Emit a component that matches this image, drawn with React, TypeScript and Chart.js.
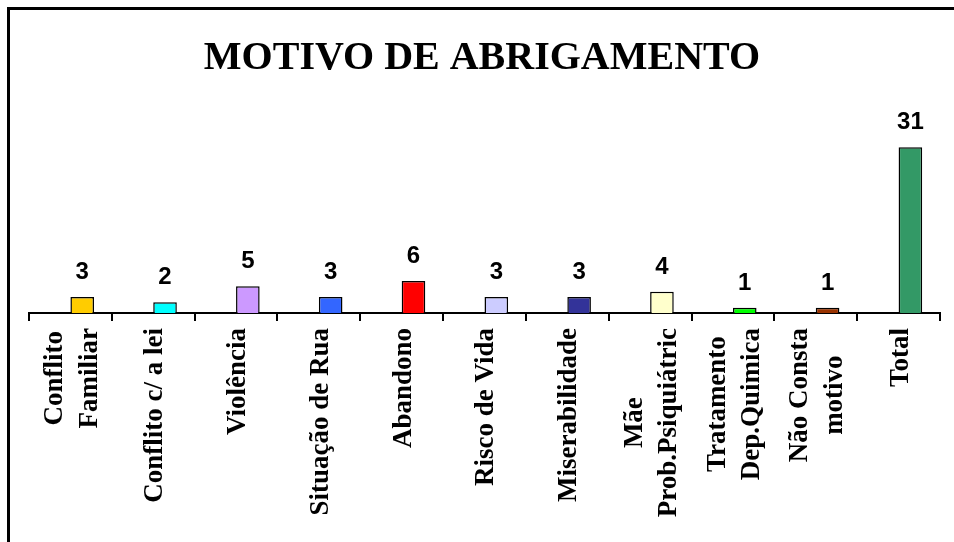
import { useEffect, useRef } from "react";
import { Chart, registerables } from "chart.js";

Chart.register(...registerables);

const chartTitle = "MOTIVO DE ABRIGAMENTO";

const categories: (string | string[])[] = [
  ["Conflito", "Familiar"],
  "Conflito c/ a lei",
  "Violência",
  "Situação de Rua",
  "Abandono",
  "Risco de Vida",
  "Miserabilidade",
  ["Mãe", "Prob.Psiquiátric"],
  ["Tratamento", "Dep.Quimica"],
  ["Não Consta", "motivo"],
  "Total",
];

const counts = [3, 2, 5, 3, 6, 3, 3, 4, 1, 1, 31];

const barColors = [
  "#FFCC00",
  "#00FFFF",
  "#CC99FF",
  "#3366FF",
  "#FF0000",
  "#CCCCFF",
  "#333399",
  "#FFFFCC",
  "#00FF00",
  "#993300",
  "#339966",
];

// empty companion series (the original chart has an unused first series)
const spacerSeries = [null, null, null, null, null, null, null, null, null, null, null];

const yMax = 35;

export default function App() {
  const ref = useRef<HTMLCanvasElement>(null);

  useEffect(() => {
    const canvas = ref.current;
    if (!canvas) return;

    const decor = {
      id: "decor",
      afterDraw(chart: any) {
        const ctx = chart.ctx as CanvasRenderingContext2D;
        const xs = chart.scales.x;
        const area = chart.chartArea;
        ctx.save();

        // frame
        ctx.strokeStyle = "#000";
        ctx.lineWidth = 3;
        ctx.strokeRect(8.5, 8.5, 3000, 3000);

        // title
        ctx.fillStyle = "#000";
        ctx.font = "bold 40px 'Liberation Serif'";
        ctx.textAlign = "center";
        ctx.textBaseline = "alphabetic";
        ctx.fillText(chartTitle, 482, 69);

        // value labels
        ctx.font = "bold 24px 'Liberation Sans'";
        const meta = chart.getDatasetMeta(1);
        meta.data.forEach((bar: any, i: number) => {
          ctx.fillText(String(counts[i]), bar.x, bar.y - 18);
        });

        // category labels (rotated, reading bottom to top)
        ctx.font = "bold 27px 'Liberation Serif'";
        const labelTop = area.bottom + 15;
        const lineGap = 34.5;
        categories.forEach((cat, i) => {
          const lines = Array.isArray(cat) ? cat : [cat];
          const widths = lines.map((l) => ctx.measureText(l).width);
          const maxW = Math.max(...widths);
          const cx = xs.getPixelForValue(i);
          ctx.save();
          ctx.translate(cx, labelTop);
          ctx.rotate(-Math.PI / 2);
          ctx.textAlign = "center";
          ctx.textBaseline = "middle";
          lines.forEach((l, j) => {
            ctx.fillText(l, -maxW / 2, (j - (lines.length - 1) / 2) * lineGap + 2);
          });
          ctx.restore();
        });

        ctx.restore();
      },
    };

    const chart = new Chart(canvas, {
      type: "bar",
      data: {
        labels: categories as any,
        datasets: [
          {
            data: spacerSeries as any,
            backgroundColor: "rgba(0,0,0,0)",
            borderWidth: 0,
          },
          {
            data: counts,
            backgroundColor: barColors,
            borderColor: "#000",
            borderWidth: 1.5,
          },
        ],
      },
      options: {
        animation: false,
        responsive: true,
        maintainAspectRatio: false,
        categoryPercentage: 0.57,
        barPercentage: 1,
        layout: { padding: { top: 126, left: 29, right: 14, bottom: 221 } },
        plugins: {
          legend: { display: false },
          title: { display: false },
          tooltip: { enabled: false },
        },
        scales: {
          x: {
            display: true,
            grid: {
              display: true,
              drawOnChartArea: false,
              drawTicks: true,
              tickLength: 8,
              color: "#000",
              lineWidth: 2,
              offset: true,
            },
            border: { display: true, color: "#000", width: 2 },
            ticks: { display: false },
          },
          y: { display: false, min: 0, max: yMax },
        },
      } as any,
      plugins: [decor],
    });

    return () => chart.destroy();
  }, []);

  return (
    <div
      style={{
        position: "absolute",
        left: 0,
        top: 0,
        width: 954,
        height: 542,
        background: "#fff",
      }}
    >
      <canvas ref={ref} />
    </div>
  );
}
